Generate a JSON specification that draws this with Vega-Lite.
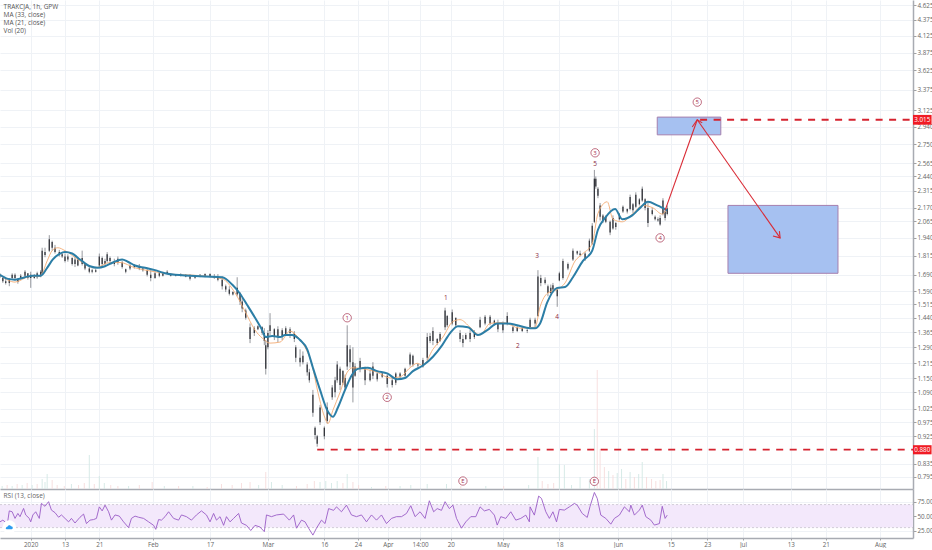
{"$schema":"https://vega.github.io/schema/vega-lite/v6.json","padding":{"left":-4,"right":6,"top":0,"bottom":0},"background":"white","spacing":0,"bounds":"flush","config":{"view":{"stroke":null},"concat":{"spacing":0},"text":{"font":"Open Sans"},"axis":{"labelFont":"Open Sans","labelFontSize":6.3,"labelPadding":1,"labelColor":"#666","gridColor":"#eff2f6","gridWidth":1,"tickColor":"#888","tickSize":3,"tickWidth":0.8,"domainColor":"#a8abb2","domainWidth":1.5,"title":null}},
"datasets":{
"vol":[{"b":3,"v":3,"s":"u"},{"b":10,"v":4,"s":"d"},{"b":17,"v":3,"s":"u"},{"b":24,"v":5,"s":"d"},{"b":31,"v":4,"s":"u"},{"b":38,"v":6,"s":"d"},{"b":45,"v":4,"s":"u"},{"b":52,"v":5,"s":"d"},{"b":59,"v":10,"s":"u"},{"b":63,"v":7,"s":"u"},{"b":66,"v":15,"s":"u"},{"b":73,"v":9,"s":"d"},{"b":80,"v":4,"s":"d"},{"b":90,"v":3,"s":"d"},{"b":100,"v":5,"s":"u"},{"b":110,"v":4,"s":"d"},{"b":118,"v":6,"s":"d"},{"b":125,"v":34,"s":"u"},{"b":132,"v":5,"s":"d"},{"b":139,"v":13,"s":"u"},{"b":146,"v":6,"s":"u"},{"b":155,"v":4,"s":"d"},{"b":165,"v":3,"s":"d"},{"b":180,"v":3,"s":"u"},{"b":195,"v":4,"s":"d"},{"b":213,"v":7,"s":"d"},{"b":230,"v":3,"s":"u"},{"b":250,"v":3,"s":"d"},{"b":270,"v":3,"s":"u"},{"b":290,"v":2,"s":"d"},{"b":310,"v":5,"s":"d"},{"b":325,"v":4,"s":"d"},{"b":338,"v":6,"s":"d"},{"b":350,"v":7,"s":"d"},{"b":362,"v":4,"s":"u"},{"b":372,"v":17,"s":"d"},{"b":380,"v":7,"s":"u"},{"b":395,"v":4,"s":"u"},{"b":415,"v":3,"s":"d"},{"b":430,"v":5,"s":"d"},{"b":440,"v":8,"s":"d"},{"b":448,"v":7,"s":"u"},{"b":456,"v":8,"s":"u"},{"b":464,"v":6,"s":"u"},{"b":472,"v":8,"s":"u"},{"b":480,"v":6,"s":"d"},{"b":486,"v":15,"s":"u"},{"b":494,"v":7,"s":"d"},{"b":502,"v":4,"s":"d"},{"b":520,"v":2,"s":"u"},{"b":540,"v":3,"s":"d"},{"b":560,"v":3,"s":"u"},{"b":575,"v":4,"s":"u"},{"b":598,"v":5,"s":"u"},{"b":625,"v":5,"s":"u"},{"b":645,"v":3,"s":"d"},{"b":680,"v":3,"s":"u"},{"b":705,"v":3,"s":"d"},{"b":740,"v":4,"s":"u"},{"b":753,"v":32,"s":"u"},{"b":759,"v":8,"s":"d"},{"b":767,"v":5,"s":"d"},{"b":775,"v":6,"s":"d"},{"b":783,"v":25,"s":"u"},{"b":790,"v":24,"s":"u"},{"b":800,"v":4,"s":"u"},{"b":812,"v":12,"s":"u"},{"b":825,"v":10,"s":"u"},{"b":832,"v":60,"s":"u"},{"b":836,"v":119,"s":"d"},{"b":840,"v":40,"s":"d"},{"b":846,"v":22,"s":"d"},{"b":852,"v":18,"s":"u"},{"b":858,"v":14,"s":"d"},{"b":864,"v":16,"s":"u"},{"b":870,"v":20,"s":"u"},{"b":876,"v":10,"s":"d"},{"b":882,"v":17,"s":"u"},{"b":888,"v":12,"s":"d"},{"b":894,"v":15,"s":"u"},{"b":899,"v":27,"s":"u"},{"b":905,"v":12,"s":"d"},{"b":912,"v":10,"s":"d"},{"b":918,"v":8,"s":"d"},{"b":924,"v":9,"s":"d"},{"b":928,"v":15,"s":"u"},{"b":933,"v":8,"s":"u"}],
"candles":[
{"b":0,"o":1.69,"h":1.7,"l":1.67,"c":1.68},{"b":4,"o":1.67,"h":1.68,"l":1.64,"c":1.65},{"b":8,"o":1.65,"h":1.67,"l":1.63,"c":1.64},{"b":13,"o":1.64,"h":1.67,"l":1.62,"c":1.66},{"b":17,"o":1.67,"h":1.7,"l":1.66,"c":1.69},{"b":21,"o":1.69,"h":1.7,"l":1.655,"c":1.67},{"b":25,"o":1.66,"h":1.67,"l":1.635,"c":1.645},{"b":29,"o":1.665,"h":1.695,"l":1.66,"c":1.685},{"b":35,"o":1.685,"h":1.72,"l":1.675,"c":1.71},{"b":39,"o":1.7,"h":1.7,"l":1.66,"c":1.67},{"b":43,"o":1.67,"h":1.71,"l":1.61,"c":1.69},{"b":48,"o":1.68,"h":1.695,"l":1.665,"c":1.67},{"b":52,"o":1.675,"h":1.71,"l":1.665,"c":1.7},{"b":57,"o":1.69,"h":1.72,"l":1.675,"c":1.71},{"b":59,"o":1.7,"h":1.87,"l":1.69,"c":1.85},{"b":63,"o":1.84,"h":1.87,"l":1.805,"c":1.82},{"b":69,"o":1.85,"h":1.96,"l":1.84,"c":1.93},{"b":73,"o":1.91,"h":1.92,"l":1.85,"c":1.87},{"b":77,"o":1.87,"h":1.89,"l":1.83,"c":1.84},{"b":83,"o":1.84,"h":1.855,"l":1.81,"c":1.82},{"b":87,"o":1.825,"h":1.84,"l":1.8,"c":1.81},{"b":91,"o":1.81,"h":1.83,"l":1.77,"c":1.78},{"b":95,"o":1.79,"h":1.825,"l":1.775,"c":1.81},{"b":101,"o":1.8,"h":1.805,"l":1.75,"c":1.76},{"b":105,"o":1.76,"h":1.81,"l":1.74,"c":1.79},{"b":109,"o":1.79,"h":1.805,"l":1.745,"c":1.75},{"b":115,"o":1.76,"h":1.85,"l":1.75,"c":1.8},{"b":119,"o":1.76,"h":1.765,"l":1.72,"c":1.73},{"b":125,"o":1.73,"h":1.74,"l":1.7,"c":1.71},{"b":129,"o":1.71,"h":1.73,"l":1.7,"c":1.72},{"b":134,"o":1.72,"h":1.73,"l":1.705,"c":1.71},{"b":139,"o":1.75,"h":1.83,"l":1.74,"c":1.81},{"b":143,"o":1.8,"h":1.81,"l":1.745,"c":1.76},{"b":147,"o":1.76,"h":1.795,"l":1.75,"c":1.78},{"b":150,"o":1.78,"h":1.84,"l":1.77,"c":1.825},{"b":154,"o":1.8,"h":1.81,"l":1.77,"c":1.78},{"b":160,"o":1.78,"h":1.795,"l":1.745,"c":1.76},{"b":165,"o":1.77,"h":1.81,"l":1.755,"c":1.795},{"b":171,"o":1.77,"h":1.78,"l":1.73,"c":1.74},{"b":176,"o":1.725,"h":1.73,"l":1.7,"c":1.71},{"b":182,"o":1.73,"h":1.76,"l":1.72,"c":1.75},{"b":188,"o":1.75,"h":1.76,"l":1.73,"c":1.74},{"b":195,"o":1.745,"h":1.76,"l":1.72,"c":1.73},{"b":200,"o":1.73,"h":1.74,"l":1.71,"c":1.72},{"b":206,"o":1.72,"h":1.73,"l":1.68,"c":1.69},{"b":211,"o":1.69,"h":1.72,"l":1.65,"c":1.67},{"b":217,"o":1.67,"h":1.72,"l":1.665,"c":1.7},{"b":223,"o":1.7,"h":1.715,"l":1.675,"c":1.685},{"b":228,"o":1.685,"h":1.71,"l":1.68,"c":1.7},{"b":234,"o":1.7,"h":1.72,"l":1.695,"c":1.71},{"b":239,"o":1.695,"h":1.7,"l":1.68,"c":1.685},{"b":246,"o":1.69,"h":1.695,"l":1.68,"c":1.685},{"b":253,"o":1.685,"h":1.7,"l":1.68,"c":1.695},{"b":260,"o":1.69,"h":1.695,"l":1.675,"c":1.68},{"b":266,"o":1.68,"h":1.695,"l":1.655,"c":1.665},{"b":273,"o":1.67,"h":1.68,"l":1.665,"c":1.675},{"b":280,"o":1.68,"h":1.695,"l":1.675,"c":1.69},{"b":287,"o":1.68,"h":1.7,"l":1.675,"c":1.695},{"b":294,"o":1.695,"h":1.7,"l":1.675,"c":1.68},{"b":300,"o":1.68,"h":1.695,"l":1.665,"c":1.67},{"b":305,"o":1.67,"h":1.695,"l":1.65,"c":1.66},{"b":311,"o":1.66,"h":1.68,"l":1.6,"c":1.62},{"b":316,"o":1.62,"h":1.63,"l":1.585,"c":1.6},{"b":321,"o":1.6,"h":1.62,"l":1.565,"c":1.575},{"b":326,"o":1.585,"h":1.59,"l":1.565,"c":1.57},{"b":332,"o":1.57,"h":1.675,"l":1.56,"c":1.61},{"b":336,"o":1.58,"h":1.585,"l":1.51,"c":1.53},{"b":339,"o":1.53,"h":1.55,"l":1.47,"c":1.49},{"b":344,"o":1.48,"h":1.49,"l":1.43,"c":1.44},{"b":350,"o":1.39,"h":1.41,"l":1.31,"c":1.33},{"b":356,"o":1.36,"h":1.395,"l":1.345,"c":1.385},{"b":361,"o":1.38,"h":1.4,"l":1.375,"c":1.395},{"b":367,"o":1.39,"h":1.395,"l":1.35,"c":1.36},{"b":370,"o":1.36,"h":1.385,"l":1.3,"c":1.32},{"b":372,"o":1.3,"h":1.325,"l":1.165,"c":1.19},{"b":375,"o":1.29,"h":1.375,"l":1.28,"c":1.36},{"b":378,"o":1.37,"h":1.465,"l":1.35,"c":1.4},{"b":384,"o":1.38,"h":1.385,"l":1.325,"c":1.34},{"b":389,"o":1.34,"h":1.395,"l":1.315,"c":1.38},{"b":395,"o":1.375,"h":1.385,"l":1.325,"c":1.34},{"b":400,"o":1.35,"h":1.395,"l":1.345,"c":1.385},{"b":406,"o":1.38,"h":1.39,"l":1.335,"c":1.36},{"b":412,"o":1.36,"h":1.37,"l":1.315,"c":1.33},{"b":414,"o":1.29,"h":1.3,"l":1.22,"c":1.24},{"b":420,"o":1.24,"h":1.28,"l":1.2,"c":1.22},{"b":424,"o":1.22,"h":1.27,"l":1.21,"c":1.25},{"b":430,"o":1.21,"h":1.22,"l":1.16,"c":1.175},{"b":433,"o":1.175,"h":1.19,"l":1.13,"c":1.14},{"b":438,"o":1.08,"h":1.1,"l":0.995,"c":1.01},{"b":441,"o":0.955,"h":0.96,"l":0.915,"c":0.93},{"b":444,"o":0.925,"h":0.93,"l":0.89,"c":0.9},{"b":448,"o":0.975,"h":1.04,"l":0.965,"c":1.03},{"b":454,"o":0.955,"h":0.96,"l":0.915,"c":0.925},{"b":458,"o":0.98,"h":1.05,"l":0.97,"c":1.03},{"b":465,"o":1.07,"h":1.12,"l":1.06,"c":1.11},{"b":469,"o":1.09,"h":1.155,"l":1.07,"c":1.14},{"b":472,"o":1.14,"h":1.225,"l":1.13,"c":1.21},{"b":476,"o":1.19,"h":1.2,"l":1.1,"c":1.12},{"b":480,"o":1.13,"h":1.185,"l":1.12,"c":1.18},{"b":483,"o":1.11,"h":1.165,"l":1.1,"c":1.15},{"b":486,"o":1.2,"h":1.4,"l":1.185,"c":1.3},{"b":490,"o":1.28,"h":1.3,"l":1.195,"c":1.22},{"b":494,"o":1.22,"h":1.29,"l":1.05,"c":1.11},{"b":497,"o":1.16,"h":1.215,"l":1.155,"c":1.2},{"b":504,"o":1.19,"h":1.24,"l":1.175,"c":1.225},{"b":511,"o":1.19,"h":1.2,"l":1.12,"c":1.14},{"b":518,"o":1.14,"h":1.185,"l":1.135,"c":1.17},{"b":522,"o":1.16,"h":1.22,"l":1.145,"c":1.2},{"b":528,"o":1.17,"h":1.175,"l":1.135,"c":1.145},{"b":535,"o":1.155,"h":1.175,"l":1.15,"c":1.17},{"b":542,"o":1.16,"h":1.165,"l":1.11,"c":1.125},{"b":549,"o":1.12,"h":1.15,"l":1.11,"c":1.14},{"b":554,"o":1.13,"h":1.175,"l":1.12,"c":1.17},{"b":560,"o":1.155,"h":1.175,"l":1.15,"c":1.17},{"b":567,"o":1.16,"h":1.195,"l":1.155,"c":1.19},{"b":574,"o":1.21,"h":1.265,"l":1.2,"c":1.255},{"b":578,"o":1.25,"h":1.255,"l":1.2,"c":1.21},{"b":585,"o":1.205,"h":1.215,"l":1.195,"c":1.21},{"b":592,"o":1.2,"h":1.24,"l":1.195,"c":1.23},{"b":598,"o":1.24,"h":1.36,"l":1.23,"c":1.34},{"b":602,"o":1.345,"h":1.36,"l":1.31,"c":1.32},{"b":606,"o":1.32,"h":1.39,"l":1.3,"c":1.37},{"b":612,"o":1.33,"h":1.335,"l":1.3,"c":1.31},{"b":616,"o":1.32,"h":1.365,"l":1.315,"c":1.355},{"b":623,"o":1.39,"h":1.495,"l":1.375,"c":1.48},{"b":626,"o":1.45,"h":1.455,"l":1.39,"c":1.4},{"b":633,"o":1.41,"h":1.485,"l":1.4,"c":1.47},{"b":638,"o":1.44,"h":1.44,"l":1.39,"c":1.4},{"b":644,"o":1.36,"h":1.375,"l":1.315,"c":1.33},{"b":648,"o":1.33,"h":1.35,"l":1.29,"c":1.31},{"b":652,"o":1.33,"h":1.36,"l":1.325,"c":1.35},{"b":658,"o":1.36,"h":1.375,"l":1.315,"c":1.33},{"b":664,"o":1.34,"h":1.375,"l":1.33,"c":1.365},{"b":672,"o":1.39,"h":1.445,"l":1.385,"c":1.43},{"b":679,"o":1.41,"h":1.455,"l":1.4,"c":1.445},{"b":686,"o":1.445,"h":1.455,"l":1.4,"c":1.41},{"b":692,"o":1.425,"h":1.43,"l":1.4,"c":1.41},{"b":697,"o":1.41,"h":1.43,"l":1.365,"c":1.38},{"b":704,"o":1.375,"h":1.42,"l":1.36,"c":1.41},{"b":710,"o":1.41,"h":1.47,"l":1.4,"c":1.45},{"b":718,"o":1.39,"h":1.4,"l":1.36,"c":1.37},{"b":724,"o":1.37,"h":1.4,"l":1.365,"c":1.39},{"b":731,"o":1.385,"h":1.39,"l":1.365,"c":1.37},{"b":738,"o":1.37,"h":1.385,"l":1.36,"c":1.375},{"b":742,"o":1.39,"h":1.44,"l":1.385,"c":1.43},{"b":749,"o":1.41,"h":1.44,"l":1.39,"c":1.43},{"b":753,"o":1.45,"h":1.72,"l":1.445,"c":1.68},{"b":757,"o":1.67,"h":1.69,"l":1.62,"c":1.64},{"b":763,"o":1.64,"h":1.675,"l":1.63,"c":1.66},{"b":767,"o":1.62,"h":1.63,"l":1.56,"c":1.58},{"b":771,"o":1.58,"h":1.63,"l":1.57,"c":1.61},{"b":774,"o":1.6,"h":1.64,"l":1.58,"c":1.625},{"b":780,"o":1.6,"h":1.615,"l":1.5,"c":1.56},{"b":783,"o":1.655,"h":1.71,"l":1.65,"c":1.7},{"b":788,"o":1.67,"h":1.795,"l":1.66,"c":1.78},{"b":795,"o":1.76,"h":1.77,"l":1.72,"c":1.73},{"b":802,"o":1.79,"h":1.865,"l":1.78,"c":1.85},{"b":808,"o":1.845,"h":1.85,"l":1.82,"c":1.83},{"b":812,"o":1.83,"h":1.85,"l":1.81,"c":1.82},{"b":819,"o":1.8,"h":1.84,"l":1.78,"c":1.83},{"b":825,"o":1.85,"h":1.935,"l":1.84,"c":1.92},{"b":829,"o":1.9,"h":2.05,"l":1.89,"c":2.03},{"b":832,"o":2.06,"h":2.5,"l":2.05,"c":2.42},{"b":834,"o":2.42,"h":2.44,"l":2.33,"c":2.35},{"b":837,"o":2.33,"h":2.345,"l":2.25,"c":2.27},{"b":840,"o":2.19,"h":2.21,"l":2.07,"c":2.1},{"b":844,"o":2.11,"h":2.12,"l":2.05,"c":2.07},{"b":848,"o":2.06,"h":2.11,"l":2.05,"c":2.1},{"b":854,"o":2.06,"h":2.07,"l":1.96,"c":1.98},{"b":858,"o":2.01,"h":2.11,"l":2.0,"c":2.09},{"b":862,"o":2.05,"h":2.06,"l":2.0,"c":2.02},{"b":867,"o":2.08,"h":2.13,"l":2.07,"c":2.12},{"b":872,"o":2.14,"h":2.19,"l":2.13,"c":2.18},{"b":878,"o":2.16,"h":2.165,"l":2.125,"c":2.14},{"b":882,"o":2.16,"h":2.28,"l":2.15,"c":2.26},{"b":886,"o":2.2,"h":2.21,"l":2.13,"c":2.15},{"b":890,"o":2.18,"h":2.3,"l":2.17,"c":2.28},{"b":895,"o":2.24,"h":2.25,"l":2.19,"c":2.2},{"b":899,"o":2.23,"h":2.35,"l":2.22,"c":2.33},{"b":903,"o":2.24,"h":2.25,"l":2.15,"c":2.17},{"b":907,"o":2.17,"h":2.21,"l":2.02,"c":2.05},{"b":913,"o":2.12,"h":2.17,"l":2.11,"c":2.15},{"b":917,"o":2.1,"h":2.11,"l":2.07,"c":2.08},{"b":921,"o":2.08,"h":2.095,"l":2.06,"c":2.07},{"b":924,"o":2.04,"h":2.11,"l":2.03,"c":2.09},{"b":928,"o":2.12,"h":2.25,"l":2.11,"c":2.23},{"b":931,"o":2.14,"h":2.15,"l":2.07,"c":2.09},{"b":934,"o":2.12,"h":2.19,"l":2.11,"c":2.17}],
"ma33":[{"b":0,"p":1.69},{"b":11,"p":1.665},{"b":21,"p":1.66},{"b":35,"p":1.675},{"b":46,"p":1.685},{"b":57,"p":1.685},{"b":66,"p":1.735},{"b":74,"p":1.79},{"b":84,"p":1.83},{"b":91,"p":1.84},{"b":101,"p":1.83},{"b":112,"p":1.79},{"b":126,"p":1.745},{"b":137,"p":1.735},{"b":147,"p":1.745},{"b":158,"p":1.77},{"b":171,"p":1.79},{"b":179,"p":1.775},{"b":189,"p":1.75},{"b":203,"p":1.735},{"b":217,"p":1.72},{"b":231,"p":1.7},{"b":245,"p":1.69},{"b":266,"p":1.685},{"b":287,"p":1.68},{"b":311,"p":1.675},{"b":325,"p":1.63},{"b":336,"p":1.575},{"b":346,"p":1.51},{"b":357,"p":1.44},{"b":367,"p":1.375},{"b":372,"p":1.34},{"b":381,"p":1.345},{"b":392,"p":1.34},{"b":399,"p":1.35},{"b":409,"p":1.35},{"b":417,"p":1.335},{"b":420,"p":1.325},{"b":430,"p":1.28},{"b":438,"p":1.195},{"b":448,"p":1.1},{"b":458,"p":1.02},{"b":466,"p":0.995},{"b":473,"p":1.03},{"b":483,"p":1.1},{"b":493,"p":1.165},{"b":501,"p":1.19},{"b":515,"p":1.195},{"b":528,"p":1.18},{"b":542,"p":1.17},{"b":556,"p":1.145},{"b":567,"p":1.15},{"b":578,"p":1.18},{"b":592,"p":1.205},{"b":606,"p":1.245},{"b":619,"p":1.3},{"b":630,"p":1.36},{"b":641,"p":1.395},{"b":655,"p":1.39},{"b":669,"p":1.35},{"b":682,"p":1.375},{"b":696,"p":1.41},{"b":710,"p":1.41},{"b":724,"p":1.4},{"b":742,"p":1.385},{"b":749,"p":1.385},{"b":756,"p":1.41},{"b":766,"p":1.525},{"b":780,"p":1.61},{"b":791,"p":1.615},{"b":802,"p":1.675},{"b":816,"p":1.78},{"b":829,"p":1.85},{"b":837,"p":2.0},{"b":847,"p":2.09},{"b":861,"p":2.16},{"b":871,"p":2.08},{"b":885,"p":2.11},{"b":896,"p":2.17},{"b":907,"p":2.22},{"b":920,"p":2.19},{"b":934,"p":2.15}],
"ma21":[{"b":0,"p":1.69},{"b":21,"p":1.645},{"b":42,"p":1.68},{"b":56,"p":1.68},{"b":66,"p":1.78},{"b":73,"p":1.85},{"b":81,"p":1.87},{"b":91,"p":1.85},{"b":112,"p":1.78},{"b":133,"p":1.735},{"b":154,"p":1.77},{"b":168,"p":1.77},{"b":189,"p":1.735},{"b":210,"p":1.715},{"b":238,"p":1.695},{"b":280,"p":1.685},{"b":311,"p":1.665},{"b":329,"p":1.58},{"b":343,"p":1.475},{"b":357,"p":1.375},{"b":367,"p":1.335},{"b":378,"p":1.31},{"b":392,"p":1.315},{"b":406,"p":1.37},{"b":417,"p":1.34},{"b":427,"p":1.29},{"b":437,"p":1.205},{"b":445,"p":1.09},{"b":455,"p":0.99},{"b":459,"p":0.97},{"b":466,"p":1.02},{"b":476,"p":1.09},{"b":486,"p":1.175},{"b":494,"p":1.195},{"b":508,"p":1.19},{"b":528,"p":1.175},{"b":546,"p":1.15},{"b":560,"p":1.155},{"b":574,"p":1.195},{"b":584,"p":1.215},{"b":592,"p":1.205},{"b":606,"p":1.28},{"b":620,"p":1.34},{"b":634,"p":1.42},{"b":644,"p":1.43},{"b":658,"p":1.39},{"b":672,"p":1.35},{"b":686,"p":1.41},{"b":704,"p":1.415},{"b":728,"p":1.385},{"b":749,"p":1.39},{"b":756,"p":1.5},{"b":767,"p":1.58},{"b":780,"p":1.6},{"b":791,"p":1.64},{"b":805,"p":1.78},{"b":816,"p":1.83},{"b":829,"p":1.9},{"b":837,"p":2.125},{"b":850,"p":2.22},{"b":858,"p":2.08},{"b":871,"p":2.06},{"b":885,"p":2.12},{"b":900,"p":2.19},{"b":914,"p":2.17},{"b":927,"p":2.12},{"b":934,"p":2.17}],
"zones":[{"b":920,"b2":1009,"p":3.045,"p2":2.85},{"b":1019,"b2":1173,"p":2.19,"p2":1.7}],
"levels":[{"b":980,"b2":1278,"p":3.015},{"b":444,"b2":1278,"p":0.88}],
"arrows":[{"s":"a","i":0,"b":931,"p":2.15},{"s":"a","i":1,"b":976,"p":3.015},{"s":"b","i":0,"b":969,"p":2.935},{"s":"b","i":1,"b":976,"p":3.015},{"s":"b","i":2,"b":983,"p":2.98},{"s":"c","i":0,"b":976,"p":3.015},{"s":"c","i":1,"b":1092,"p":1.94},{"s":"d","i":0,"b":1082,"p":1.954},{"s":"d","i":1,"b":1092,"p":1.94},{"s":"d","i":2,"b":1091,"p":1.99}],
"boxes":[{"b":1278,"b2":1304,"p":3.07,"p2":2.96},{"b":1278,"b2":1304,"p":0.895,"p2":0.865}],
"boxText":[{"b":1291,"p":3.015,"t":"3.015"},{"b":1291,"p":0.88,"t":"0.880"}],
"circled":[{"b":486,"p":1.44,"t":"1"},{"b":542,"p":1.07,"t":"2"},{"b":833,"p":2.665,"t":"3"},{"b":924,"p":1.94,"t":"4"},{"b":976,"p":3.22,"t":"5"},{"b":648,"p":0.783,"t":"E"},{"b":832,"p":0.782,"t":"E"}],
"plainLabels":[{"b":624,"p":1.55,"t":"1"},{"b":725,"p":1.297,"t":"2"},{"b":752,"p":1.815,"t":"3"},{"b":780,"p":1.445,"t":"4"},{"b":833,"p":2.556,"t":"5"}],
"legend":[{"b":5,"p":4.59,"t":"TRAKCJA, 1h, GPW","w":"bold"},{"b":5,"p":4.46,"t":"MA (33, close)","w":"normal"},{"b":5,"p":4.32,"t":"MA (21, close)","w":"normal"},{"b":5,"p":4.2,"t":"Vol (20)","w":"normal"}],
"rsi":[{"b":0,"r":40},{"b":4,"r":43},{"b":7,"r":40},{"b":10,"r":34},{"b":13,"r":59},{"b":17,"r":57.5},{"b":21,"r":46},{"b":25,"r":54.6},{"b":28,"r":49},{"b":33,"r":63.3},{"b":36,"r":52},{"b":41,"r":46},{"b":43,"r":40},{"b":46,"r":52},{"b":50,"r":57.5},{"b":55,"r":46},{"b":58,"r":72},{"b":63,"r":67},{"b":68,"r":75},{"b":72,"r":60.4},{"b":77,"r":56},{"b":82,"r":48},{"b":86,"r":52},{"b":91,"r":46},{"b":96,"r":40},{"b":100,"r":46},{"b":105,"r":38},{"b":112,"r":48},{"b":117,"r":53.5},{"b":121,"r":37},{"b":126,"r":43},{"b":131,"r":44},{"b":135,"r":46},{"b":139,"r":66},{"b":143,"r":59},{"b":147,"r":69},{"b":152,"r":57.5},{"b":156,"r":43},{"b":161,"r":52},{"b":167,"r":50},{"b":173,"r":40},{"b":180,"r":30},{"b":184,"r":46},{"b":189,"r":50},{"b":194,"r":48},{"b":201,"r":46},{"b":208,"r":40},{"b":215,"r":34},{"b":218,"r":27},{"b":222,"r":44},{"b":226,"r":43},{"b":231,"r":49},{"b":236,"r":57.5},{"b":243,"r":46},{"b":250,"r":43},{"b":254,"r":52},{"b":261,"r":49},{"b":268,"r":43},{"b":275,"r":52},{"b":282,"r":59},{"b":289,"r":52},{"b":294,"r":40},{"b":299,"r":54.6},{"b":303,"r":43},{"b":308,"r":49},{"b":313,"r":34},{"b":317,"r":49},{"b":322,"r":40},{"b":327,"r":46},{"b":334,"r":54.6},{"b":338,"r":38},{"b":345,"r":34},{"b":351,"r":25},{"b":357,"r":34},{"b":364,"r":31},{"b":370,"r":23},{"b":373,"r":52},{"b":380,"r":49},{"b":387,"r":52},{"b":397,"r":53.5},{"b":405,"r":43},{"b":411,"r":52},{"b":415,"r":29},{"b":422,"r":43},{"b":427,"r":40},{"b":432,"r":29},{"b":438,"r":17},{"b":443,"r":29},{"b":450,"r":43},{"b":455,"r":37},{"b":460,"r":63},{"b":467,"r":60},{"b":471,"r":66},{"b":478,"r":57.5},{"b":485,"r":69},{"b":492,"r":52},{"b":499,"r":49},{"b":506,"r":52},{"b":513,"r":40},{"b":520,"r":52},{"b":527,"r":43},{"b":534,"r":52},{"b":541,"r":37},{"b":548,"r":46},{"b":555,"r":49},{"b":562,"r":49},{"b":569,"r":54.6},{"b":575,"r":68},{"b":581,"r":49},{"b":588,"r":57.5},{"b":595,"r":46},{"b":601,"r":76.6},{"b":607,"r":57.5},{"b":612,"r":63},{"b":618,"r":60},{"b":623,"r":75},{"b":629,"r":63},{"b":634,"r":69},{"b":639,"r":46},{"b":646,"r":29},{"b":652,"r":40},{"b":659,"r":49},{"b":666,"r":49},{"b":672,"r":66},{"b":678,"r":59},{"b":685,"r":61.6},{"b":692,"r":51.7},{"b":696,"r":34.4},{"b":701,"r":49},{"b":708,"r":46},{"b":715,"r":57.5},{"b":722,"r":43},{"b":729,"r":46},{"b":736,"r":51.7},{"b":741,"r":40},{"b":742,"r":66},{"b":748,"r":51.7},{"b":754,"r":84.7},{"b":758,"r":80.6},{"b":764,"r":57.5},{"b":769,"r":46},{"b":774,"r":57.5},{"b":779,"r":40},{"b":783,"r":61.6},{"b":790,"r":60.4},{"b":797,"r":66},{"b":804,"r":72},{"b":808,"r":69},{"b":815,"r":54.6},{"b":822,"r":47.7},{"b":826,"r":67},{"b":832,"r":91},{"b":836,"r":80.6},{"b":841,"r":51.7},{"b":848,"r":46},{"b":855,"r":36},{"b":860,"r":46},{"b":867,"r":51.7},{"b":874,"r":66},{"b":881,"r":57.5},{"b":883,"r":69},{"b":888,"r":51.7},{"b":895,"r":60.4},{"b":899,"r":69},{"b":904,"r":49},{"b":911,"r":43},{"b":916,"r":34.4},{"b":923,"r":37},{"b":927,"r":67},{"b":931,"r":46},{"b":934,"r":51.7}],
"band":[{"b":0,"b2":1278,"r":70,"lo":30}],
"bandLines":[{"b":0,"b2":1278,"r":70},{"b":0,"b2":1278,"r":30}],
"logo":[{"b":13,"r":31}],
"rsiTitle":[{"b":5,"r":85,"t":"RSI (13, close)"}]
},
"vconcat":[
{"width":913,"height":489,
 "encoding":{"x":{"field":"b","type":"quantitative","scale":{"domain":[0,1278],"nice":false,"zero":false,"padding":0},"axis":{"values":[43,91,139,214,294,375,454,501,543,588,631,704,783,865,939,990,1040,1107,1156,1232],"labels":false,"ticks":false,"domain":true,"grid":true}}},
 "resolve":{"scale":{"y":"independent"},"axis":{"y":"independent"}},
 "layer":[
  {"data":{"name":"vol"},"mark":{"type":"bar","size":1,"orient":"vertical","opacity":0.9},"encoding":{"y":{"field":"v","type":"quantitative","axis":null,"scale":{"domain":[0,489],"nice":false}},"color":{"field":"s","type":"nominal","legend":null,"scale":{"domain":["u","d"],"range":["#d3e8e4","#f6dcdc"]}}}},
  {"encoding":{"y":{"field":"p","type":"quantitative","scale":{"type":"log","domain":[0.76,4.714],"nice":false},"axis":{"orient":"right","values":[4.625,4.375,4.125,3.875,3.625,3.375,3.125,2.94,2.75,2.565,2.44,2.315,2.17,2.065,1.94,1.815,1.69,1.59,1.515,1.44,1.365,1.29,1.215,1.15,1.09,1.025,0.975,0.925,0.835,0.795],"format":".3f","grid":true}}},
  "layer":[
   {"data":{"name":"candles"},"mark":{"type":"rule","color":"#6a6d74","strokeWidth":0.7},"encoding":{"y":{"field":"h","type":"quantitative","scale":{"type":"log","domain":[0.76,4.714],"nice":false},"axis":{"orient":"right","values":[4.625,4.375,4.125,3.875,3.625,3.375,3.125,2.94,2.75,2.565,2.44,2.315,2.17,2.065,1.94,1.815,1.69,1.59,1.515,1.44,1.365,1.29,1.215,1.15,1.09,1.025,0.975,0.925,0.835,0.795],"format":".3f","grid":true}},"y2":{"field":"l"}}},
   {"data":{"name":"candles"},"mark":{"type":"rule","color":"#33353b","strokeWidth":1.3},"encoding":{"y":{"field":"o","type":"quantitative","scale":{"type":"log","domain":[0.76,4.714],"nice":false},"axis":{"orient":"right","values":[4.625,4.375,4.125,3.875,3.625,3.375,3.125,2.94,2.75,2.565,2.44,2.315,2.17,2.065,1.94,1.815,1.69,1.59,1.515,1.44,1.365,1.29,1.215,1.15,1.09,1.025,0.975,0.925,0.835,0.795],"format":".3f","grid":true}},"y2":{"field":"c"}}},
   {"data":{"name":"ma21"},"mark":{"type":"line","color":"#f3ab74","strokeWidth":0.9,"interpolate":"monotone"}},
   {"data":{"name":"ma33"},"mark":{"type":"line","color":"#2c7ea6","strokeWidth":2,"interpolate":"monotone"}},
   {"data":{"name":"zones"},"mark":{"type":"rect","fill":"#a6c1f1","stroke":"#a57fae","strokeWidth":1},"encoding":{"x2":{"field":"b2"},"y2":{"field":"p2"}}},
   {"data":{"name":"levels"},"mark":{"type":"rule","color":"#d5232f","strokeWidth":1.8,"strokeDash":[7,6.5]},"encoding":{"x2":{"field":"b2"}}},
   {"data":{"name":"arrows"},"mark":{"type":"line","color":"#d92b35","strokeWidth":1.1},"encoding":{"detail":{"field":"s"},"order":{"field":"i"}}},
   {"data":{"name":"boxes"},"mark":{"type":"rect","fill":"#f01b24"},"encoding":{"x2":{"field":"b2"},"y2":{"field":"p2"}}},
   {"data":{"name":"boxText"},"mark":{"type":"text","color":"white","fontSize":6.3,"align":"center","baseline":"middle"},"encoding":{"text":{"field":"t"}}},
   {"data":{"name":"circled"},"mark":{"type":"point","shape":"circle","size":70,"stroke":"#a5304d","strokeWidth":0.7,"fill":"white","fillOpacity":0.6}},
   {"data":{"name":"circled"},"mark":{"type":"text","color":"#a5304d","fontSize":6,"align":"center","baseline":"middle"},"encoding":{"text":{"field":"t"}}},
   {"data":{"name":"plainLabels"},"mark":{"type":"text","color":"#8c2a40","fontSize":6.5,"align":"center","baseline":"middle"},"encoding":{"text":{"field":"t"}}},
   {"data":{"name":"legend"},"mark":{"type":"text","color":"#555","fontSize":6.5,"align":"left","baseline":"middle"},"encoding":{"text":{"field":"t"},"fontWeight":{"field":"w","type":"nominal","legend":null,"scale":null}}}
  ]}
 ]},
{"width":913,"height":49,
 "encoding":{"x":{"field":"b","type":"quantitative","scale":{"domain":[0,1278],"nice":false,"zero":false,"padding":0},"axis":{"values":[43,91,139,214,294,375,454,501,543,588,631,704,783,865,939,990,1040,1107,1156,1232],"labelExpr":"{'43':'2020','91':'13','139':'21','214':'Feb','294':'17','375':'Mar','454':'16','501':'24','543':'Apr','588':'14:00','631':'20','704':'May','783':'18','865':'Jun','939':'15','990':'23','1040':'Jul','1107':'13','1156':'21','1232':'Aug'}[datum.value]","ticks":true,"tickSize":2,"labelPadding":1,"domain":true,"grid":true}},
 "y":{"field":"r","type":"quantitative","scale":{"domain":[12,97],"nice":false,"zero":false},"axis":{"orient":"right","values":[25,50,75],"format":".2f","grid":true}}},
 "layer":[
  {"data":{"name":"band"},"mark":{"type":"rect","fill":"#f3e8fb"},"encoding":{"x2":{"field":"b2"},"y2":{"field":"lo"}}},
  {"data":{"name":"bandLines"},"mark":{"type":"rule","color":"#b9b3bf","strokeWidth":0.6,"strokeDash":[2,2]},"encoding":{"x2":{"field":"b2"}}},
  {"data":{"name":"rsi"},"mark":{"type":"line","color":"#9a5cc6","strokeWidth":0.9}},
  {"data":{"name":"rsiTitle"},"mark":{"type":"text","color":"#666","fontSize":6.5,"align":"left","baseline":"middle"},"encoding":{"text":{"field":"t"}}},
  {"data":{"name":"logo"},"mark":{"type":"point","shape":"circle","size":180,"fill":"white","stroke":null,"opacity":1}},
  {"data":{"name":"logo"},"mark":{"type":"point","shape":"M-1,0.4 C-1,0 -0.6,-0.1 -0.5,-0.1 C-0.4,-0.6 0.3,-0.7 0.5,-0.2 C0.9,-0.2 1,0.1 1,0.3 C1,0.5 0.8,0.6 0.7,0.6 L-0.7,0.6 C-0.9,0.6 -1,0.5 -1,0.4 Z","size":50,"fill":"#2b9bf0","stroke":null,"opacity":1}}
 ]}
]}
